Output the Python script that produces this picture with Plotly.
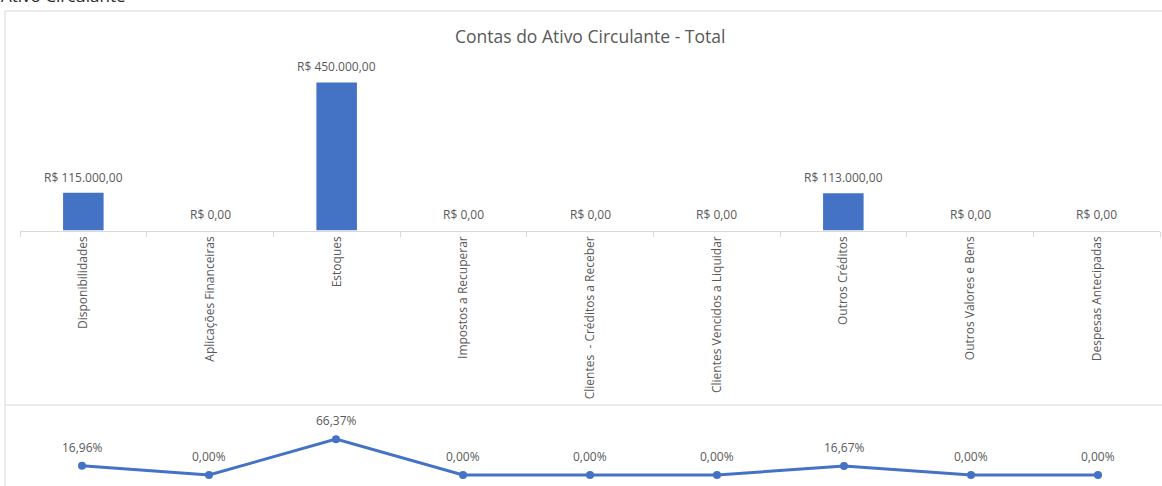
import plotly.graph_objects as go

W, H = 1162, 486

categories = [
    "Disponibilidades",
    "Aplicações Financeiras",
    "Estoques",
    "Impostos a Recuperar",
    "Clientes  - Créditos a Receber",
    "Clientes Vencidos a Liquidar",
    "Outros Créditos",
    "Outros Valores e Bens",
    "Despesas Antecipadas",
]
values = [115000, 0, 450000, 0, 0, 0, 113000, 0, 0]
value_labels = ["R$ 115.000,00", "R$ 0,00", "R$ 450.000,00", "R$ 0,00", "R$ 0,00",
                "R$ 0,00", "R$ 113.000,00", "R$ 0,00", "R$ 0,00"]
shares = [16.96, 0.00, 66.37, 0.00, 0.00, 0.00, 16.67, 0.00, 0.00]
share_labels = ["16,96%", "0,00%", "66,37%", "0,00%", "0,00%", "0,00%", "16,67%", "0,00%", "0,00%"]

BLUE = "#4472C4"
GREY_TXT = "#595959"
GRID = "#d9d9d9"
FONT = "Open Sans"


def px_y(p):
    return 1 - p / H


def px_x(p):
    return p / W


fig = go.Figure()

fig.add_trace(go.Bar(
    x=categories, y=values, marker=dict(color=BLUE, line=dict(width=0)),
    width=0.32, xaxis="x", yaxis="y", showlegend=False, hoverinfo="skip",
))

fig.add_trace(go.Scatter(
    x=categories, y=shares, mode="lines+markers",
    line=dict(color=BLUE, width=3), marker=dict(color=BLUE, size=8),
    xaxis="x2", yaxis="y2", showlegend=False, cliponaxis=False, hoverinfo="skip",
))

annotations = []
for c, v, t in zip(categories, values, value_labels):
    annotations.append(dict(x=c, y=v, xref="x", yref="y", text=t, showarrow=False,
                            yanchor="bottom", yshift=5,
                            font=dict(family=FONT, size=12, color=GREY_TXT)))
for c, v, t in zip(categories, shares, share_labels):
    annotations.append(dict(x=c, y=v, xref="x2", yref="y2", text=t, showarrow=False,
                            yanchor="bottom", yshift=8,
                            font=dict(family=FONT, size=12, color=GREY_TXT)))

annotations.append(dict(x=px_x(590), y=px_y(36), xref="paper", yref="paper",
                        text="Contas do Ativo Circulante - Total", showarrow=False,
                        xanchor="center", yanchor="middle",
                        font=dict(family=FONT, size=17.5, color=GREY_TXT)))
annotations.append(dict(x=px_x(-1), y=px_y(9), xref="paper", yref="paper",
                        text="Ativo Circulante", showarrow=False,
                        xanchor="left", yanchor="bottom",
                        font=dict(family=FONT, size=17, color="#262626")))

shapes = [
    dict(type="line", xref="paper", yref="paper", x0=px_x(5), x1=1.0, y0=px_y(11), y1=px_y(11),
         line=dict(color=GRID, width=1)),
    dict(type="line", xref="paper", yref="paper", x0=px_x(5), x1=px_x(5), y0=px_y(11), y1=0,
         line=dict(color=GRID, width=1)),
    dict(type="line", xref="paper", yref="paper", x0=px_x(5), x1=1.0, y0=px_y(405), y1=px_y(405),
         line=dict(color=GRID, width=1)),
]

fig.update_layout(
    width=W, height=H,
    margin=dict(l=0, r=0, t=0, b=0),
    paper_bgcolor="white", plot_bgcolor="white",
    font=dict(family=FONT, color=GREY_TXT),
    xaxis=dict(domain=[px_x(20), px_x(1160)], type="category", anchor="y",
               showline=True, linecolor=GRID, linewidth=1,
               ticks="outside", ticklen=5, tickcolor=GRID, tickson="boundaries",
               tickangle=-90, showgrid=False, zeroline=False,
               tickfont=dict(family=FONT, size=12, color=GREY_TXT)),
    yaxis=dict(domain=[px_y(230.5), px_y(66)], range=[0, 500000], visible=False,
               showgrid=False, zeroline=False),
    xaxis2=dict(domain=[px_x(20), px_x(1160)], type="category", anchor="y2",
                visible=False, showgrid=False),
    yaxis2=dict(domain=[px_y(480.4), px_y(421)], range=[-10, 100], visible=False,
                showgrid=False, zeroline=False),
    annotations=annotations,
    shapes=shapes,
)

fig.write_html("out.html", config={"displayModeBar": False},
               post_script="document.body.style.margin='0px';")
